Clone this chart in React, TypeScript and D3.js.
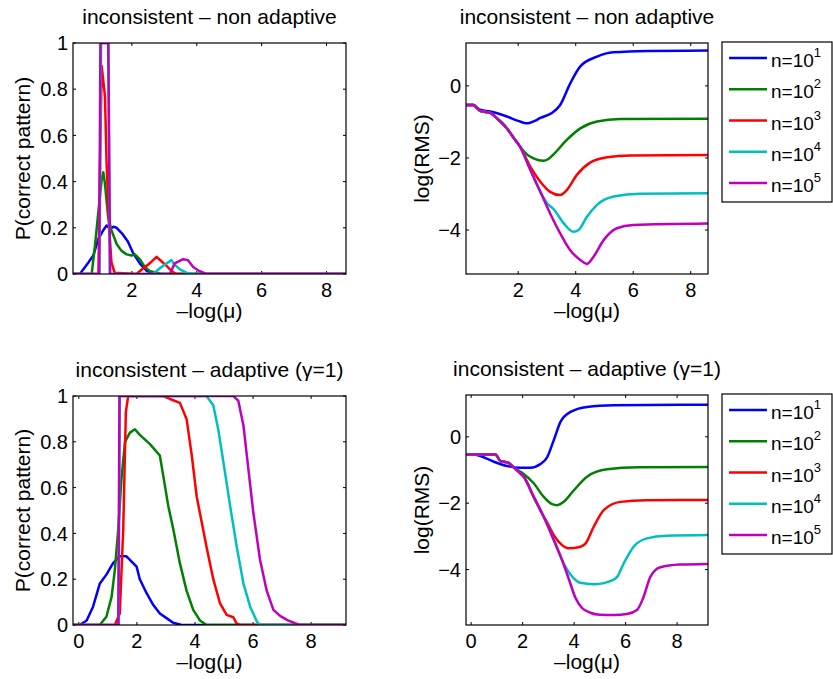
import React from "react";
import * as d3 from "d3";

type Pt = [number, number];

const seriesColors = ["#0000ff", "#008000", "#ff0000", "#00bfbf", "#bf00bf"];
const legendExponents = ["1", "2", "3", "4", "5"];

const titleNonAdaptive = "inconsistent \u2013 non adaptive";
const titleAdaptive = "inconsistent \u2013 adaptive (\u03b3=1)";
const xLabel = "\u2013log(\u03bc)";
const yLabelP = "P(correct pattern)";
const yLabelRMS = "log(RMS)";

const xTicksTop = [2, 4, 6, 8];
const xTicksBottom = [0, 2, 4, 6, 8];
const yTicksP = [0, 0.2, 0.4, 0.6, 0.8, 1];
const yTicksRMS = [-4, -2, 0];

// ---- top-left: P(correct pattern), non adaptive
const tlBlue: Pt[] = [[0.185,0],[0.4,0],[0.5,0.02],[0.66,0.05],[0.81,0.08],[0.96,0.15],[1.12,0.19],[1.22,0.21],[1.33,0.195],[1.43,0.205],[1.53,0.2],[1.7,0.175],[1.88,0.14],[2.04,0.09],[2.25,0.045],[2.45,0.015],[2.65,0],[8.6,0]];
const tlGreen: Pt[] = [[0.185,0],[0.76,0],[0.86,0.12],[0.96,0.26],[1.07,0.41],[1.12,0.44],[1.17,0.39],[1.27,0.245],[1.37,0.19],[1.53,0.13],[1.68,0.1],[1.84,0.085],[1.99,0.08],[2.09,0.085],[2.25,0.063],[2.4,0.03],[2.55,0.013],[2.76,0.005],[2.9,0],[8.6,0]];
const tlRed: Pt[] = [[0.185,0],[0.97,0],[1.02,0.5],[1.07,0.9],[1.17,0.77],[1.22,0.48],[1.3,0.19],[1.37,0.05],[1.47,0.005],[2.14,0],[2.35,0.025],[2.55,0.046],[2.76,0.074],[2.91,0.055],[3.07,0.035],[3.22,0.013],[3.37,0],[8.6,0]];
const tlCyan: Pt[] = [[0.185,0],[1.0,0],[1.05,1],[1.28,1],[1.32,0],[2.66,0],[2.86,0.025],[3.07,0.046],[3.22,0.06],[3.32,0.04],[3.48,0.02],[3.68,0.006],[3.9,0],[8.6,0]];
const tlMagenta: Pt[] = [[0.185,0],[0.99,0],[1.03,1],[1.27,1],[1.33,0],[3.17,0],[3.32,0.046],[3.58,0.064],[3.73,0.06],[3.89,0.03],[4.09,0.012],[4.3,0],[8.6,0]];

// ---- top-right: log(RMS), non adaptive
const trBlue: Pt[] = [[0.19,-0.53],[0.45,-0.53],[0.55,-0.6],[0.7,-0.67],[1.03,-0.71],[1.61,-0.85],[2.0,-0.97],[2.3,-1.04],[2.55,-0.98],[2.77,-0.89],[3.17,-0.75],[3.46,-0.53],[3.81,0.07],[4.16,0.54],[4.74,0.81],[5.3,0.93],[6.5,0.97],[8.6,0.98]];
const trGreen: Pt[] = [[0.19,-0.53],[0.45,-0.53],[0.55,-0.6],[0.7,-0.7],[1.03,-0.75],[1.26,-0.9],[1.61,-1.18],[1.85,-1.45],[2.07,-1.69],[2.3,-1.9],[2.53,-2.01],[2.88,-2.08],[3.05,-2.03],[3.23,-1.9],[3.69,-1.5],[4.16,-1.18],[4.74,-0.99],[5.55,-0.92],[8.6,-0.91]];
const trRed: Pt[] = [[0.19,-0.53],[0.45,-0.53],[0.55,-0.6],[0.7,-0.7],[1.03,-0.75],[1.26,-0.9],[1.61,-1.18],[1.85,-1.45],[2.07,-1.69],[2.42,-2.24],[2.77,-2.66],[3.11,-2.94],[3.46,-3.03],[3.69,-2.89],[4.04,-2.47],[4.5,-2.13],[5.09,-1.98],[5.9,-1.93],[8.6,-1.92]];
const trCyan: Pt[] = [[0.19,-0.53],[0.45,-0.53],[0.55,-0.6],[0.7,-0.7],[1.03,-0.75],[1.26,-0.9],[1.61,-1.18],[1.85,-1.45],[2.07,-1.69],[2.42,-2.33],[2.77,-2.94],[3.0,-3.25],[3.23,-3.42],[3.58,-3.81],[3.92,-4.05],[4.1,-4.0],[4.39,-3.63],[4.74,-3.3],[5.32,-3.07],[6.24,-2.99],[8.6,-2.98]];
const trMagenta: Pt[] = [[0.19,-0.53],[0.45,-0.53],[0.55,-0.6],[0.7,-0.7],[1.03,-0.75],[1.26,-0.9],[1.61,-1.18],[1.85,-1.45],[2.07,-1.69],[2.42,-2.33],[2.77,-2.94],[3.11,-3.54],[3.46,-4.09],[3.81,-4.56],[4.16,-4.83],[4.39,-4.94],[4.62,-4.74],[4.97,-4.28],[5.43,-3.95],[6.0,-3.86],[8.6,-3.82]];

// ---- bottom-left: P(correct pattern), adaptive
const blBlue: Pt[] = [[-0.2,0],[0.03,0],[0.27,0.02],[0.49,0.08],[0.72,0.18],[0.95,0.22],[1.18,0.27],[1.41,0.3],[1.64,0.3],[1.87,0.27],[1.99,0.255],[2.1,0.2],[2.33,0.14],[2.56,0.088],[2.79,0.05],[3.02,0.03],[3.25,0.01],[3.54,0],[9.2,0]];
const blGreen: Pt[] = [[-0.2,0],[0.72,0],[0.95,0.036],[1.13,0.124],[1.24,0.24],[1.36,0.42],[1.47,0.64],[1.59,0.8],[1.76,0.84],[1.93,0.855],[2.1,0.83],[2.45,0.79],[2.79,0.74],[2.91,0.65],[3.08,0.52],[3.25,0.42],[3.48,0.27],[3.71,0.15],[3.94,0.066],[4.17,0.02],[4.4,0],[9.2,0]];
const blRed: Pt[] = [[-0.2,0],[1.24,0],[1.41,0.05],[1.53,0.42],[1.62,0.93],[1.7,1],[2.91,1],[3.14,0.987],[3.48,0.97],[3.71,0.9],[3.89,0.74],[4.06,0.56],[4.23,0.45],[4.4,0.34],[4.63,0.2],[4.86,0.095],[5.09,0.044],[5.32,0.034],[5.43,0.007],[5.55,0],[9.2,0]];
const blCyan: Pt[] = [[-0.2,0],[1.37,0],[1.41,1],[4.4,1],[4.63,0.96],[4.8,0.855],[4.98,0.71],[5.21,0.52],[5.44,0.34],[5.67,0.18],[5.9,0.08],[6.13,0.015],[6.24,0],[9.2,0]];
const blMagenta: Pt[] = [[-0.2,0],[1.36,0],[1.4,1],[5.32,1],[5.49,0.98],[5.67,0.87],[5.84,0.68],[6.01,0.49],[6.24,0.285],[6.47,0.15],[6.7,0.066],[6.93,0.04],[7.2,0.02],[7.6,0],[9.2,0]];

// ---- bottom-right: log(RMS), adaptive
const brBlue: Pt[] = [[-0.18,-0.53],[0.1,-0.53],[0.36,-0.58],[0.88,-0.75],[1.4,-0.88],[1.91,-0.93],[2.3,-0.93],[2.69,-0.82],[2.95,-0.62],[3.21,-0.1],[3.47,0.45],[3.86,0.75],[4.5,0.9],[5.55,0.95],[9.2,0.97]];
const brGreen: Pt[] = [[-0.18,-0.53],[0.94,-0.53],[1.14,-0.73],[1.27,-0.75],[1.44,-0.78],[1.65,-0.92],[1.91,-1.05],[2.04,-1.12],[2.43,-1.4],[2.82,-1.81],[3.15,-2.03],[3.34,-2.06],[3.6,-1.96],[3.99,-1.61],[4.5,-1.2],[5.28,-0.98],[6.5,-0.92],[9.2,-0.91]];
const brRed: Pt[] = [[-0.18,-0.53],[0.94,-0.53],[1.14,-0.73],[1.27,-0.75],[1.44,-0.78],[1.65,-0.92],[1.91,-1.1],[2.04,-1.2],[2.43,-1.81],[2.82,-2.41],[2.95,-2.58],[3.21,-2.96],[3.47,-3.22],[3.79,-3.36],[4.24,-3.31],[4.44,-3.22],[4.76,-2.71],[5.15,-2.21],[5.8,-1.96],[6.8,-1.91],[9.2,-1.9]];
const brCyan: Pt[] = [[-0.18,-0.53],[0.94,-0.53],[1.14,-0.73],[1.27,-0.75],[1.44,-0.78],[1.65,-0.92],[1.91,-1.1],[2.04,-1.2],[2.43,-1.81],[2.82,-2.41],[3.21,-3.11],[3.53,-3.71],[3.86,-4.15],[4.24,-4.4],[4.76,-4.44],[5.54,-4.3],[5.67,-4.22],[5.93,-3.81],[6.31,-3.31],[6.83,-3.06],[7.6,-2.98],[9.2,-2.96]];
const brMagenta: Pt[] = [[-0.18,-0.53],[0.94,-0.53],[1.14,-0.73],[1.27,-0.75],[1.44,-0.78],[1.65,-0.92],[1.91,-1.1],[2.04,-1.2],[2.43,-1.81],[2.82,-2.41],[3.21,-3.11],[3.53,-3.71],[3.8,-4.3],[4.05,-4.85],[4.3,-5.15],[4.63,-5.3],[5.0,-5.36],[5.54,-5.37],[6.05,-5.34],[6.44,-5.22],[6.7,-4.82],[6.96,-4.22],[7.35,-3.93],[8.1,-3.85],[9.2,-3.83]];

const FONT = "'Liberation Sans', Arial, Helvetica, sans-serif";

type PanelProps = {
  left: number; top: number; width: number; height: number;
  xDomain: [number, number]; yDomain: [number, number];
  xTicks: number[]; yTicks: number[];
  series: Pt[][]; title: string; yLabel: string; yLabelOffset: number;
  smooth: boolean; legend: boolean;
};

const fmtY = (v: number) => (v < 0 ? "\u2212" + Math.abs(v) : String(v));

function Panel(p: PanelProps) {
  const x = d3.scaleLinear().domain(p.xDomain).range([p.left, p.left + p.width]);
  const y = d3.scaleLinear().domain(p.yDomain).range([p.top + p.height, p.top]);
  const line = d3
    .line<Pt>()
    .x((d) => x(d[0]))
    .y((d) => y(d[1]))
    .curve(p.smooth ? d3.curveMonotoneX : d3.curveLinear);
  const right = p.left + p.width;
  const bottom = p.top + p.height;
  const tl = 3;
  const cx = p.left + p.width / 2;
  const cy = p.top + p.height / 2;
  const lgX = 722;
  const lgW = 110;
  return (
    <g>
      <defs>
        <clipPath id={`clip-${p.left}-${p.top}`}>
          <rect x={p.left} y={p.top} width={p.width} height={p.height} />
        </clipPath>
      </defs>
      <rect x={p.left} y={p.top} width={p.width} height={p.height} fill="#fff" />
      {p.xTicks.map((t) => (
        <g key={"xt" + t}>
          <line x1={x(t)} x2={x(t)} y1={bottom} y2={bottom - tl} stroke="#000" strokeWidth={1} />
          <line x1={x(t)} x2={x(t)} y1={p.top} y2={p.top + tl} stroke="#000" strokeWidth={1} />
          <text x={x(t)} y={bottom + 23} textAnchor="middle" fontSize={20} fontFamily={FONT}>{t}</text>
        </g>
      ))}
      {p.yTicks.map((t) => (
        <g key={"yt" + t}>
          <line x1={p.left} x2={p.left + tl} y1={y(t)} y2={y(t)} stroke="#000" strokeWidth={1} />
          <line x1={right} x2={right - tl} y1={y(t)} y2={y(t)} stroke="#000" strokeWidth={1} />
          <text x={p.left - 5} y={y(t)} dy="0.36em" textAnchor="end" fontSize={20} fontFamily={FONT}>{fmtY(t)}</text>
        </g>
      ))}
      <g clipPath={`url(#clip-${p.left}-${p.top})`}>
        {p.series.map((s, i) => (
          <path key={i} d={line(s) || ""} fill="none" stroke={seriesColors[i]} strokeWidth={2.5} strokeLinejoin="round" />
        ))}
      </g>
      <rect x={p.left} y={p.top} width={p.width} height={p.height} fill="none" stroke="#000" strokeWidth={1.2} />
      <text x={cx} y={p.top - 19} textAnchor="middle" fontSize={21} fontFamily={FONT}>{p.title}</text>
      <text x={cx} y={bottom + 44} textAnchor="middle" fontSize={21} fontFamily={FONT}>{xLabel}</text>
      <text
        transform={`translate(${p.left - p.yLabelOffset},${cy}) rotate(-90)`}
        textAnchor="middle"
        dy="0.36em"
        fontSize={21}
        fontFamily={FONT}
      >
        {p.yLabel}
      </text>
      {p.legend && (
        <g>
          <rect x={lgX} y={p.top - 1} width={lgW} height={160} fill="#fff" stroke="#000" strokeWidth={1.2} />
          {legendExponents.map((e, i) => {
            const ly = p.top + 15 + i * 31.25;
            return (
              <g key={e}>
                <line x1={lgX + 7} x2={lgX + 45} y1={ly} y2={ly} stroke={seriesColors[i]} strokeWidth={2.5} />
                <text x={lgX + 49} y={ly + 9} fontSize={19} fontFamily={FONT}>
                  n=10
                  <tspan dy={-10} fontSize={13}>{e}</tspan>
                </text>
              </g>
            );
          })}
        </g>
      )}
    </g>
  );
}

export default function App() {
  return (
    <svg
      width={833}
      height={679}
      viewBox="0 0 833 679"
      style={{ position: "absolute", left: 0, top: 0, background: "#fff", display: "block" }}
    >
      <rect x={0} y={0} width={833} height={679} fill="#fff" />
      <Panel
        left={73} top={43} width={273} height={231}
        xDomain={[0.185, 8.6]} yDomain={[0, 1]}
        xTicks={xTicksTop} yTicks={yTicksP}
        series={[tlBlue, tlGreen, tlRed, tlCyan, tlMagenta]}
        title={titleNonAdaptive} yLabel={yLabelP} yLabelOffset={51}
        smooth={false} legend={false}
      />
      <Panel
        left={466} top={43} width={242} height={231}
        xDomain={[0.185, 8.6]} yDomain={[-5.22, 1.19]}
        xTicks={xTicksTop} yTicks={yTicksRMS}
        series={[trBlue, trGreen, trRed, trCyan, trMagenta]}
        title={titleNonAdaptive} yLabel={yLabelRMS} yLabelOffset={45}
        smooth={true} legend={true}
      />
      <Panel
        left={73} top={396} width={273} height={229}
        xDomain={[-0.2, 9.2]} yDomain={[0, 1]}
        xTicks={xTicksBottom} yTicks={yTicksP}
        series={[blBlue, blGreen, blRed, blCyan, blMagenta]}
        title={titleAdaptive} yLabel={yLabelP} yLabelOffset={51}
        smooth={false} legend={false}
      />
      <Panel
        left={466} top={395} width={242} height={230}
        xDomain={[-0.2, 9.2]} yDomain={[-5.67, 1.26]}
        xTicks={xTicksBottom} yTicks={yTicksRMS}
        series={[brBlue, brGreen, brRed, brCyan, brMagenta]}
        title={titleAdaptive} yLabel={yLabelRMS} yLabelOffset={45}
        smooth={true} legend={true}
      />
    </svg>
  );
}
